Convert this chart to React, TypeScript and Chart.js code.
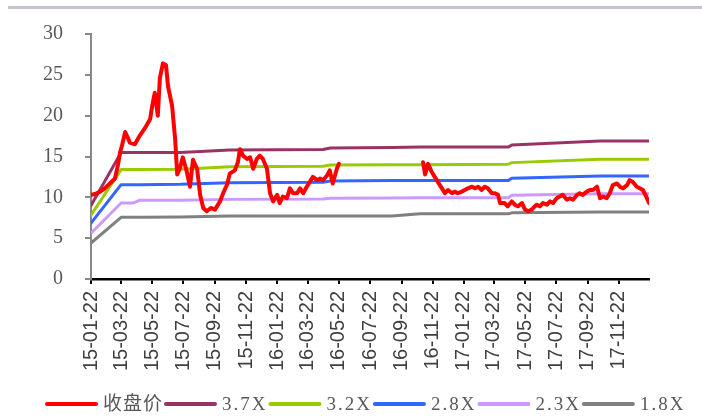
import { useEffect, useRef } from 'react';
import { Chart, registerables } from 'chart.js';

Chart.register(...registerables);

// ---- data ----
const START_DATE = Date.UTC(2015, 0, 22);
const tickLabels = [
  '15-01-22', '15-03-22', '15-05-22', '15-07-22', '15-09-22', '15-11-22',
  '16-01-22', '16-03-22', '16-05-22', '16-07-22', '16-09-22', '16-11-22',
  '17-01-22', '17-03-22', '17-05-22', '17-07-22', '17-09-22', '17-11-22',
];
const X_MAX_DAY = 1094;

// close price: days since 2015-01-22 and value (null = no data)
const priceDays = [
  0, 8, 18, 27, 37, 47, 53, 57, 61, 67, 73, 76, 86, 96, 106, 116, 120, 125, 131, 135,
  141, 147, 151, 159, 165, 169, 174, 180, 188, 194, 200, 208, 214, 220, 227, 235, 243, 253, 259, 267,
  272, 282, 288, 292, 298, 306, 312, 318, 325, 331, 337, 345, 351, 357, 365, 370, 376, 384, 390, 396,
  404, 410, 416, 423, 429, 435, 443, 449, 455, 463, 468, 474, 482, 486, 570,
  651, 655, 661, 668, 674, 680, 688, 694, 700, 708, 713, 719, 727, 733, 739, 747, 753, 759, 766, 772,
  778, 786, 792, 798, 802, 811, 817, 825, 831, 837, 845, 851, 857, 864, 870, 874, 880, 886, 894, 900,
  906, 913, 919, 925, 933, 939, 945, 953, 958, 964, 972, 978, 984, 992, 998, 1004, 1011, 1017, 1023, 1031,
  1037, 1043, 1051, 1056, 1062, 1070, 1076, 1082, 1090, 1094,
];
const priceValues = [
  10.3, 10.4, 10.7, 11.1, 11.7, 12.3, 14.0, 15.5, 16.4, 18.0, 17.2, 16.7, 16.5, 17.6, 18.5, 19.6, 21.2, 22.8, 20.0, 24.6,
  26.4, 26.2, 23.6, 21.2, 17.1, 12.8, 13.5, 14.9, 13.1, 11.3, 14.6, 13.5, 10.3, 8.7, 8.3, 8.7, 8.5, 9.5, 10.5, 11.6,
  12.9, 13.3, 14.3, 15.9, 15.1, 14.7, 14.9, 13.5, 14.7, 15.1, 14.7, 13.5, 10.5, 9.5, 10.3, 9.3, 10.1, 9.9, 11.1, 10.5,
  10.5, 11.1, 10.5, 11.3, 11.9, 12.5, 12.1, 12.3, 12.1, 12.7, 13.3, 11.7, 13.5, 14.1, null,
  14.3, 12.8, 14.1, 13.1, 12.5, 11.9, 11.1, 10.5, 10.9, 10.5, 10.7, 10.5, 10.7, 10.9, 11.1, 11.3, 11.1, 11.3, 10.9, 11.3,
  11.1, 10.5, 10.5, 10.3, 9.3, 9.3, 8.9, 9.5, 9.1, 8.9, 9.3, 8.5, 8.3, 8.5, 8.9, 9.1, 8.9, 9.3, 9.1, 9.5,
  9.3, 9.9, 10.1, 10.3, 9.7, 9.9, 9.7, 10.3, 10.5, 10.3, 10.7, 10.9, 10.9, 11.3, 9.9, 10.1, 9.9, 10.5, 11.5, 11.7,
  11.3, 11.1, 11.5, 12.1, 11.9, 11.3, 11.1, 10.9, 9.9, 9.3,
];

// PB band lines, sampled at shared days
const bandDays = [0, 59, 82, 96, 175, 272, 455, 469, 590, 645, 818, 825, 998, 1094];
const band37 = [9.0, 15.5, 15.5, 15.5, 15.5, 15.8, 15.85, 16.05, 16.1, 16.15, 16.15, 16.4, 16.9, 16.9];
const band32 = [7.8, 13.4, 13.4, 13.4, 13.45, 13.75, 13.8, 13.95, 14.0, 14.0, 14.05, 14.25, 14.65, 14.65];
const band28 = [6.85, 11.55, 11.55, 11.55, 11.6, 11.8, 11.85, 12.0, 12.05, 12.05, 12.05, 12.35, 12.6, 12.6];
const band23 = [5.6, 9.3, 9.3, 9.65, 9.65, 9.75, 9.8, 9.9, 9.92, 9.95, 9.95, 10.25, 10.45, 10.45];
const band18 = [4.4, 7.55, 7.55, 7.55, 7.6, 7.7, 7.72, 7.72, 7.72, 7.98, 7.98, 8.1, 8.2, 8.2];

const seriesNames = ['收盘价', '3.7X', '3.2X', '2.8X', '2.3X', '1.8X'];
const seriesColors = ['#FF0000', '#993366', '#99CC00', '#3366FF', '#CC99FF', '#808080'];

const labelToDay = (s: string) => {
  const [yy, mm, dd] = s.split('-').map(Number);
  return Math.round((Date.UTC(2000 + yy, mm - 1, dd) - START_DATE) / 86400000);
};
const tickDays = tickLabels.map(labelToDay);

const legendPlugin = {
  id: 'customLegend',
  afterDraw(chart: any) {
    const ctx = chart.ctx;
    ctx.save();
    ctx.font = "19px 'Liberation Serif', 'Noto Sans CJK SC', serif";
    ctx.textBaseline = 'middle';
    let x = 45;
    const y = 404;
    chart.data.datasets.forEach((ds: any, i: number) => {
      ctx.strokeStyle = ds.borderColor;
      ctx.lineWidth = 4;
      ctx.lineCap = 'round';
      ctx.beginPath();
      ctx.moveTo(x + 2, y);
      ctx.lineTo(x + 51, y);
      ctx.stroke();
      x += 58;
      ctx.fillStyle = '#595959';
      (ctx as any).letterSpacing = i === 0 ? '1px' : '2px';
      ctx.fillText(ds.label, x, y + 1);
      x += ctx.measureText(ds.label).width + 1;
    });
    ctx.restore();
  },
};

export default function App() {
  const ref = useRef<HTMLCanvasElement | null>(null);
  useEffect(() => {
    if (!ref.current) return;
    const price = priceDays.map((d, i) => ({ x: d, y: priceValues[i] }));
    const bands = [band37, band32, band28, band23, band18].map((arr) =>
      bandDays.map((d, i) => ({ x: d, y: arr[i] }))
    );
    const datasets: any[] = [price, ...bands].map((data, i) => ({
      label: seriesNames[i],
      data,
      borderColor: seriesColors[i],
      backgroundColor: seriesColors[i],
      borderWidth: i === 0 ? 4 : 3,
      pointRadius: 0,
      tension: 0,
      spanGaps: false,
      borderJoinStyle: 'round',
      borderCapStyle: 'round',
    }));
    const chart = new Chart(ref.current, {
      type: 'line',
      data: { datasets },
      plugins: [legendPlugin],
      options: {
        animation: false,
        responsive: false,
        parsing: true,
        layout: { padding: { left: 0, right: 53, top: 30, bottom: 0 } },
        plugins: { legend: { display: false }, tooltip: { enabled: false } },
        scales: {
          x: {
            type: 'linear',
            min: 0,
            max: X_MAX_DAY,
            border: { color: '#000000', width: 2.5 },
            grid: { drawOnChartArea: false, drawTicks: true, tickLength: 5, color: '#000000', lineWidth: 2 },
            afterBuildTicks: (scale: any) => {
              scale.ticks = tickDays.map((v) => ({ value: v }));
            },
            afterFit: (scale: any) => {
              scale.height = 140;
            },
            ticks: {
              autoSkip: false,
              minRotation: 90,
              maxRotation: 90,
              padding: 7,
              color: '#404040',
              font: { family: "'Liberation Sans', Arial, sans-serif", size: 20 },
              callback: (v: any) => {
                const idx = tickDays.indexOf(Number(v));
                return idx >= 0 ? tickLabels[idx] : '';
              },
            },
          },
          y: {
            min: 0,
            max: 30,
            border: { color: '#888888', width: 2 },
            grid: { drawOnChartArea: false, drawTicks: true, tickLength: 6, color: '#888888', lineWidth: 2 },
            afterFit: (scale: any) => {
              scale.width = 91;
            },
            ticks: {
              stepSize: 5,
              padding: 22,
              color: '#595959',
              font: { family: "'Liberation Serif', 'Times New Roman', serif", size: 20 },
            },
          },
        },
      },
    });
    return () => chart.destroy();
  }, []);

  return (
    <div style={{ position: 'absolute', left: 0, top: 0, width: 702, height: 419, background: '#fff' }}>
      <div style={{ position: 'absolute', left: 8, top: 6, width: 694, height: 3, background: '#c9c1cd' }} />
      <canvas ref={ref} width={702} height={419} style={{ position: 'absolute', left: 0, top: 0, width: 702, height: 419 }} />
    </div>
  );
}
